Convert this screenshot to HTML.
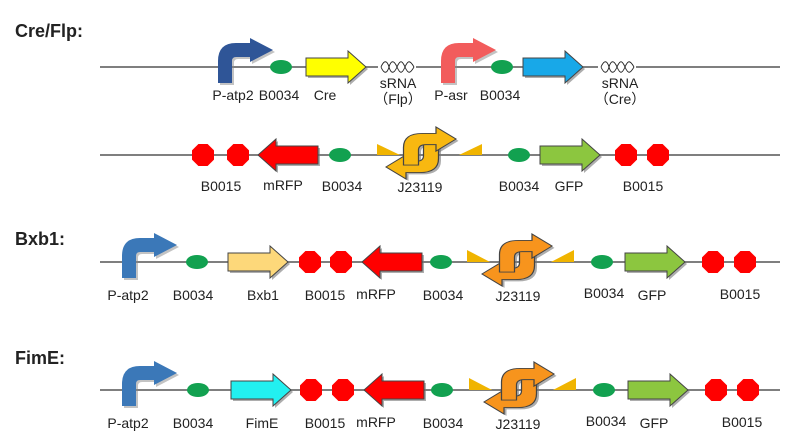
<!DOCTYPE html>
<html><head><meta charset="utf-8"><style>
html,body{margin:0;padding:0;background:#fff;width:801px;height:444px;overflow:hidden}
text{font-family:"Liberation Sans",Arial,sans-serif;fill:#222}
</style></head><body>
<svg width="801" height="444" viewBox="0 0 801 444" xmlns="http://www.w3.org/2000/svg">
<defs>
<path id="prom" d="M0 16 L0 -6 Q0 -24 18 -24 L32 -24 L32 -29 L55 -17 L32 -5 L32 -10 L18 -10 Q14 -10 14 -6 L14 16 Z"/>
<path id="cds" d="M0 -9 L42 -9 L42 -16 L60 0 L42 16 L42 9 L0 9 Z"/>
<path id="cdsl" d="M60 -9 L18 -9 L18 -16 L0 0 L18 16 L18 9 L60 9 Z"/>
<polygon id="oct" points="-4.6,-11 4.6,-11 11,-4.6 11,4.6 4.6,11 -4.6,11 -11,4.6 -11,-4.6"/>
<path id="half" d="M-14 13 L-14 -6 Q-14 -21 1 -21 L12 -21 L12 -28 L28 -15 L12 -2 L12 -9 L4 -9 Q-2 -9 -2 -3 L-2 13 Z"/>
<g id="site">
 <use href="#half" transform="translate(2,2)" fill="#777" opacity="0.6"/>
 <use href="#half" transform="rotate(180) translate(-2,-2)" fill="#777" opacity="0.6"/>
 <use href="#half" transform="rotate(180)" stroke="#444" stroke-width="1"/>
 <use href="#half" stroke="#444" stroke-width="1"/>
</g>
<path id="srna" d="M0 0 C3 -7 6 -7 8 0 S13 7 16 0 S21 -7 24 0 S29 7 33 0 M0 0 C3 7 6 7 8 0 S13 -7 16 0 S21 7 24 0 S29 -7 33 0" fill="none" stroke="#222" stroke-width="0.9"/>
</defs>

<g font-weight="bold" font-size="18">
<text x="15" y="37" style="font-weight:bold">Cre/Flp:</text>
<text x="15" y="245" style="font-weight:bold">Bxb1:</text>
<text x="15" y="364" style="font-weight:bold">FimE:</text>
</g>

<g stroke="#555" stroke-width="1.6">
<line x1="100" y1="67" x2="780" y2="67"/>
<line x1="100" y1="155" x2="780" y2="155"/>
<line x1="100" y1="262" x2="780" y2="262"/>
<line x1="100" y1="390" x2="780" y2="390"/>
</g>

<!-- Row 1 -->
<rect x="378" y="60" width="38" height="14" fill="#fff"/>
<rect x="598" y="60" width="38" height="14" fill="#fff"/>
<use href="#prom" transform="translate(220,69)" fill="#888" opacity="0.5"/>
<use href="#prom" transform="translate(218,67)" fill="#2f5597"/>
<ellipse cx="281" cy="67" rx="11" ry="7" fill="#12a150"/>
<use href="#cds" transform="translate(308,69)" fill="#777" opacity="0.6"/>
<use href="#cds" transform="translate(306,67)" fill="#ffff00" stroke="#444"/>
<use href="#srna" transform="translate(381,67)"/>
<use href="#prom" transform="translate(443,69)" fill="#888" opacity="0.5"/>
<use href="#prom" transform="translate(441,67)" fill="#f25c5c"/>
<ellipse cx="502" cy="67" rx="11" ry="7" fill="#12a150"/>
<use href="#cds" transform="translate(525,69)" fill="#777" opacity="0.6"/>
<use href="#cds" transform="translate(523,67)" fill="#18a8e8" stroke="#444"/>
<use href="#srna" transform="translate(601,67)"/>
<g font-size="14">
<text x="233" y="100" text-anchor="middle">P-atp2</text>
<text x="279" y="100" text-anchor="middle">B0034</text>
<text x="325" y="100" text-anchor="middle">Cre</text>
<text x="398" y="88" text-anchor="middle">sRNA</text>
<text x="398" y="104" text-anchor="middle" font-family="Liberation Sans,Noto Sans CJK SC,sans-serif">（Flp）</text>
<text x="451" y="100" text-anchor="middle">P-asr</text>
<text x="500" y="100" text-anchor="middle">B0034</text>
<text x="620" y="88" text-anchor="middle">sRNA</text>
<text x="620" y="104" text-anchor="middle" font-family="Liberation Sans,Noto Sans CJK SC,sans-serif">（Cre）</text>
</g>

<!-- Row 2 -->
<use href="#oct" transform="translate(203,155)" fill="#f00"/>
<use href="#oct" transform="translate(238,155)" fill="#f00"/>
<use href="#cdsl" transform="translate(260,157)" fill="#777" opacity="0.6"/>
<use href="#cdsl" transform="translate(258,155)" fill="#f00" stroke="#444"/>
<ellipse cx="340" cy="155" rx="11" ry="7" fill="#12a150"/>
<polygon points="377,144 400,155 377,155" fill="#f0b400"/>
<polygon points="482,144 459,155 482,155" fill="#f0b400"/>
<use href="#site" transform="translate(421,153) scale(1.25,0.93)" fill="#f8b810"/>
<ellipse cx="519" cy="155" rx="11" ry="7" fill="#12a150"/>
<use href="#cds" transform="translate(542,157)" fill="#777" opacity="0.6"/>
<use href="#cds" transform="translate(540,155)" fill="#8cc63f" stroke="#444"/>
<use href="#oct" transform="translate(626,155)" fill="#f00"/>
<use href="#oct" transform="translate(658,155)" fill="#f00"/>
<g font-size="14">
<text x="221" y="191" text-anchor="middle">B0015</text>
<text x="283" y="190" text-anchor="middle">mRFP</text>
<text x="342" y="191" text-anchor="middle">B0034</text>
<text x="420" y="192" text-anchor="middle">J23119</text>
<text x="519" y="191" text-anchor="middle">B0034</text>
<text x="569" y="191" text-anchor="middle">GFP</text>
<text x="643" y="191" text-anchor="middle">B0015</text>
</g>

<!-- Row 3 -->
<use href="#prom" transform="translate(124,264)" fill="#888" opacity="0.5"/>
<use href="#prom" transform="translate(122,262)" fill="#3b78b8"/>
<ellipse cx="197" cy="262" rx="11" ry="7" fill="#12a150"/>
<use href="#cds" transform="translate(230,264)" fill="#777" opacity="0.6"/>
<use href="#cds" transform="translate(228,262)" fill="#fdd87a" stroke="#444"/>
<use href="#oct" transform="translate(310,262)" fill="#f00"/>
<use href="#oct" transform="translate(341,262)" fill="#f00"/>
<use href="#cdsl" transform="translate(364,264)" fill="#777" opacity="0.6"/>
<use href="#cdsl" transform="translate(362,262)" fill="#f00" stroke="#444"/>
<ellipse cx="441" cy="262" rx="11" ry="7" fill="#12a150"/>
<polygon points="467,250 490,262 467,262" fill="#f0b400"/>
<polygon points="574,250 551,262 574,262" fill="#f0b400"/>
<use href="#site" transform="translate(517,260) scale(1.25,0.93)" fill="#f7941d"/>
<ellipse cx="602" cy="262" rx="11" ry="7" fill="#12a150"/>
<use href="#cds" transform="translate(627,264)" fill="#777" opacity="0.6"/>
<use href="#cds" transform="translate(625,262)" fill="#8cc63f" stroke="#444"/>
<use href="#oct" transform="translate(713,262)" fill="#f00"/>
<use href="#oct" transform="translate(745,262)" fill="#f00"/>
<g font-size="14">
<text x="128" y="300" text-anchor="middle">P-atp2</text>
<text x="193" y="300" text-anchor="middle">B0034</text>
<text x="263" y="300" text-anchor="middle">Bxb1</text>
<text x="325" y="300" text-anchor="middle">B0015</text>
<text x="376" y="299" text-anchor="middle">mRFP</text>
<text x="443" y="300" text-anchor="middle">B0034</text>
<text x="518" y="301" text-anchor="middle">J23119</text>
<text x="604" y="298" text-anchor="middle">B0034</text>
<text x="652" y="300" text-anchor="middle">GFP</text>
<text x="740" y="299" text-anchor="middle">B0015</text>
</g>

<!-- Row 4 -->
<use href="#prom" transform="translate(124,392)" fill="#888" opacity="0.5"/>
<use href="#prom" transform="translate(122,390)" fill="#3b78b8"/>
<ellipse cx="198" cy="390" rx="11" ry="7" fill="#12a150"/>
<use href="#cds" transform="translate(233,392)" fill="#777" opacity="0.6"/>
<use href="#cds" transform="translate(231,390)" fill="#22f0f0" stroke="#444"/>
<use href="#oct" transform="translate(311,390)" fill="#f00"/>
<use href="#oct" transform="translate(343,390)" fill="#f00"/>
<use href="#cdsl" transform="translate(366,392)" fill="#777" opacity="0.6"/>
<use href="#cdsl" transform="translate(364,390)" fill="#f00" stroke="#444"/>
<ellipse cx="442" cy="390" rx="11" ry="7" fill="#12a150"/>
<polygon points="469,378 492,390 469,390" fill="#f0b400"/>
<polygon points="576,378 553,390 576,390" fill="#f0b400"/>
<use href="#site" transform="translate(519,388) scale(1.25,0.93)" fill="#f7941d"/>
<ellipse cx="604" cy="390" rx="11" ry="7" fill="#12a150"/>
<use href="#cds" transform="translate(630,392)" fill="#777" opacity="0.6"/>
<use href="#cds" transform="translate(628,390)" fill="#8cc63f" stroke="#444"/>
<use href="#oct" transform="translate(716,390)" fill="#f00"/>
<use href="#oct" transform="translate(748,390)" fill="#f00"/>
<g font-size="14">
<text x="128" y="428" text-anchor="middle">P-atp2</text>
<text x="193" y="428" text-anchor="middle">B0034</text>
<text x="262" y="428" text-anchor="middle">FimE</text>
<text x="325" y="428" text-anchor="middle">B0015</text>
<text x="376" y="427" text-anchor="middle">mRFP</text>
<text x="443" y="428" text-anchor="middle">B0034</text>
<text x="518" y="429" text-anchor="middle">J23119</text>
<text x="606" y="426" text-anchor="middle">B0034</text>
<text x="654" y="428" text-anchor="middle">GFP</text>
<text x="742" y="427" text-anchor="middle">B0015</text>
</g>
</svg>
</body></html>
